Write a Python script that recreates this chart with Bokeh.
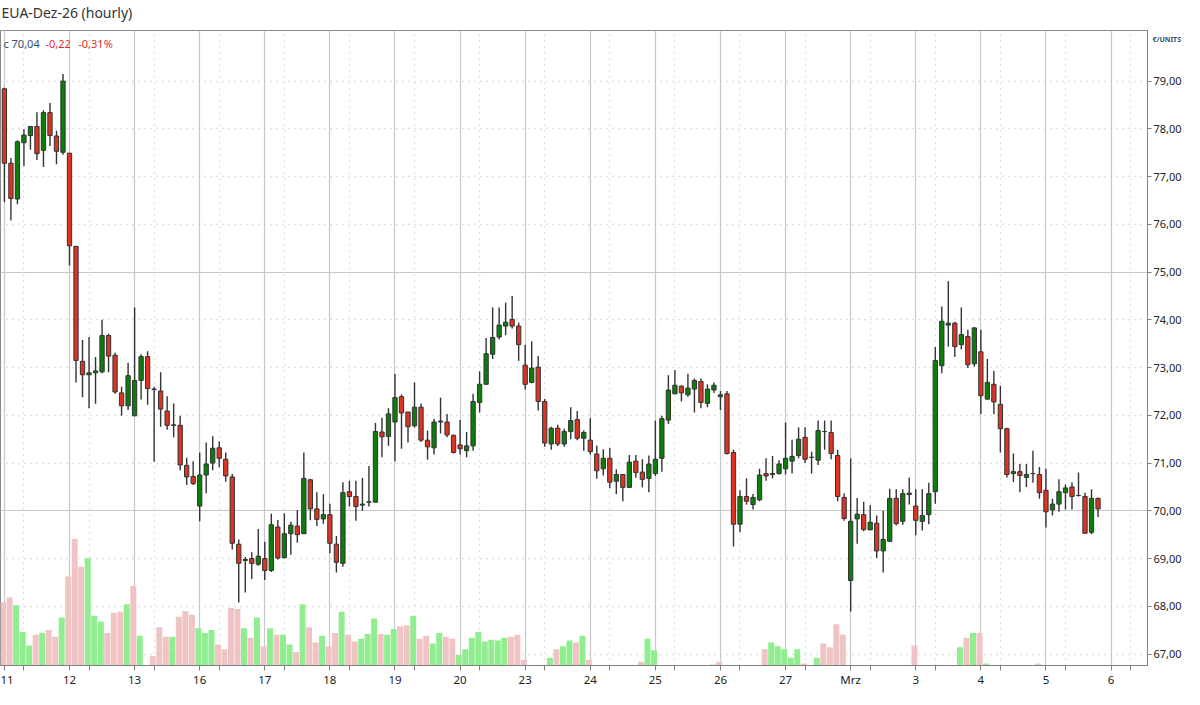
from bokeh.plotting import figure
from bokeh.models import (Range1d, FixedTicker, CustomJSTickFormatter, Grid, Label,
                          ColumnDataSource)
from bokeh.core.properties import value
from bokeh.embed import file_html
from bokeh.resources import INLINE
import json

# ---------------- data ----------------
day_labels = ["11", "12", "13", "16", "17", "18", "19", "20", "23", "24", "25", "26",
              "27", "Mrz", "3", "4", "5", "6"]
bars_per_day = 10

opens = [78.84, 77.28, 76.53, 77.71, 77.86, 78.05, 77.55, 78.34, 77.85, 77.51,
         77.49, 75.54, 73.13, 72.85, 72.89, 72.91, 73.67, 73.26, 72.47, 72.20,
         71.99, 72.73, 73.23, 72.55, 72.51, 72.09, 71.79, 71.79, 70.95, 70.72,
         70.10, 70.75, 71.00, 71.32, 71.08, 70.71, 69.30, 68.96, 69.00, 68.88,
         69.00, 68.75, 69.66, 69.02, 69.52, 69.68, 69.52, 70.65, 70.04, 69.83,
         69.92, 69.30, 68.90, 70.40, 70.30, 70.12, 70.18, 70.18, 71.65, 71.56,
         71.86, 72.39, 72.07, 71.78, 72.17, 71.48, 71.32, 71.86, 71.86, 71.58,
         71.38, 71.26, 71.36, 72.27, 72.65, 73.28, 73.64, 73.87, 74.01, 73.87,
         73.05, 72.69, 73.01, 72.29, 71.40, 71.73, 71.40, 71.66, 71.91, 71.52,
         71.48, 71.19, 70.88, 71.10, 70.62, 70.76, 70.49, 71.04, 70.81, 70.68,
         70.78, 71.10, 71.90, 72.45, 72.61, 72.43, 72.55, 72.71, 72.25, 72.53,
         72.39, 72.45, 71.22, 69.72, 70.30, 70.13, 70.23, 70.78, 70.76, 70.78,
         70.88, 71.04, 71.16, 71.54, 71.12, 71.06, 71.66, 71.64, 71.16, 70.28,
         68.54, 69.83, 69.92, 69.60, 69.74, 69.16, 69.36, 70.26, 69.78, 70.34,
         70.10, 69.78, 69.92, 70.40, 73.04, 73.89, 73.93, 73.48, 73.65, 73.08,
         73.33, 72.34, 72.65, 72.23, 71.72, 70.78, 70.82, 70.70, 70.78, 70.76,
         70.43, 70.02, 70.14, 70.38, 70.50, 70.32, 70.30, 69.55, 70.26]
highs = [78.86, 77.39, 77.76, 77.99, 78.06, 78.35, 78.39, 78.54, 77.96, 79.15,
         77.49, 75.54, 73.58, 73.64, 73.22, 74.00, 73.71, 73.31, 72.60, 73.10,
         74.26, 73.28, 73.34, 72.60, 72.90, 72.40, 72.25, 71.99, 71.11, 71.04,
         71.22, 71.43, 71.56, 71.45, 71.22, 70.77, 69.40, 69.03, 69.13, 69.62,
         69.35, 69.94, 69.81, 69.95, 69.77, 70.01, 71.22, 70.67, 70.39, 70.35,
         70.15, 69.47, 70.60, 70.63, 70.63, 70.69, 70.94, 71.84, 71.95, 72.15,
         72.87, 72.44, 72.07, 72.69, 72.25, 71.68, 71.93, 72.37, 72.03, 71.60,
         71.90, 71.65, 72.45, 72.92, 73.62, 74.26, 74.26, 74.36, 74.50, 73.94,
         73.48, 73.55, 73.24, 72.34, 71.76, 71.80, 71.72, 72.17, 72.09, 71.68,
         71.94, 71.37, 71.29, 71.32, 70.87, 70.76, 71.17, 71.17, 71.08, 71.16,
         71.89, 71.99, 72.84, 72.95, 72.63, 72.87, 72.77, 72.77, 72.65, 72.69,
         72.51, 72.51, 71.28, 70.43, 70.68, 70.35, 70.88, 71.10, 71.15, 71.06,
         71.85, 71.49, 71.75, 71.75, 71.24, 71.89, 71.89, 71.89, 71.28, 70.36,
         71.10, 70.27, 70.19, 70.12, 69.90, 70.00, 70.46, 70.45, 70.45, 70.70,
         70.45, 70.45, 70.59, 73.43, 74.28, 74.81, 73.96, 74.26, 73.79, 73.85,
         73.79, 73.18, 72.93, 72.62, 71.74, 71.20, 70.98, 70.98, 71.26, 70.92,
         70.88, 70.25, 70.66, 70.55, 70.60, 70.80, 70.38, 70.45, 70.28]
lows = [76.47, 76.08, 76.42, 77.22, 77.56, 77.35, 77.20, 77.64, 77.26, 77.46,
        75.14, 72.69, 72.38, 72.15, 72.24, 72.88, 72.90, 72.45, 71.99, 72.11,
        71.99, 72.33, 72.22, 71.03, 71.76, 71.70, 71.54, 70.85, 70.54, 70.54,
        69.78, 70.37, 70.85, 70.91, 70.61, 69.19, 68.08, 68.29, 68.57, 68.85,
        68.55, 68.72, 68.98, 69.00, 69.08, 69.33, 69.52, 69.80, 69.68, 69.73,
        69.11, 68.71, 68.83, 70.09, 69.79, 70.00, 70.09, 70.18, 71.12, 71.36,
        71.04, 71.30, 71.43, 71.74, 71.44, 71.07, 71.18, 71.62, 71.54, 71.20,
        71.18, 71.12, 71.26, 72.06, 72.65, 73.18, 73.59, 73.68, 73.82, 73.14,
        72.54, 72.67, 72.10, 71.34, 71.28, 71.36, 71.34, 71.50, 71.48, 71.26,
        71.18, 70.67, 70.74, 70.47, 70.35, 70.20, 70.49, 70.69, 70.49, 70.39,
        70.73, 70.82, 71.82, 72.45, 72.29, 72.39, 72.06, 72.15, 72.17, 72.47,
        72.11, 71.18, 69.25, 69.55, 70.13, 70.03, 70.20, 70.63, 70.68, 70.76,
        70.76, 70.78, 71.10, 71.00, 70.78, 70.96, 71.28, 71.08, 70.20, 69.79,
        67.89, 69.31, 69.57, 69.60, 69.01, 68.71, 69.36, 69.69, 69.71, 70.13,
        69.49, 69.59, 69.72, 70.15, 72.88, 73.44, 73.22, 73.38, 72.99, 73.02,
        72.03, 72.32, 72.02, 71.22, 70.70, 70.60, 70.39, 70.50, 70.59, 70.25,
        69.65, 69.90, 69.98, 70.03, 70.03, 70.30, 69.53, 69.51, 69.87]
closes = [77.28, 76.54, 77.73, 77.87, 78.05, 77.48, 78.34, 77.86, 77.53, 79.00,
          75.55, 73.15, 72.85, 72.89, 72.93, 73.67, 73.24, 72.49, 72.20, 72.83,
          72.73, 73.23, 72.56, 72.54, 72.13, 71.79, 71.80, 70.96, 70.71, 70.57,
          70.75, 70.98, 71.31, 71.10, 70.73, 69.32, 68.90, 68.98, 68.90, 69.05,
          68.75, 69.71, 69.01, 69.52, 69.70, 69.50, 70.68, 70.04, 69.82, 69.92,
          69.32, 68.92, 70.38, 70.30, 70.09, 70.14, 70.19, 71.66, 71.55, 72.03,
          72.37, 72.05, 71.76, 72.17, 71.48, 71.34, 71.86, 71.88, 71.59, 71.22,
          71.30, 71.36, 72.29, 72.65, 73.29, 73.63, 73.89, 73.95, 73.87, 73.48,
          72.65, 72.99, 72.29, 71.42, 71.73, 71.40, 71.66, 71.89, 71.52, 71.64,
          71.24, 70.84, 71.10, 70.60, 70.76, 70.49, 71.02, 70.80, 70.66, 70.98,
          71.08, 71.93, 72.53, 72.63, 72.47, 72.57, 72.73, 72.27, 72.55, 72.63,
          72.43, 71.20, 69.72, 70.30, 70.20, 70.28, 70.75, 70.73, 70.78, 70.98,
          71.10, 71.14, 71.50, 71.08, 71.12, 71.68, 71.66, 71.20, 70.30, 69.84,
          69.78, 69.93, 69.61, 69.76, 69.16, 69.40, 70.26, 69.73, 70.36, 70.37,
          69.80, 69.90, 70.36, 73.15, 73.97, 73.93, 73.44, 73.69, 73.06, 73.83,
          72.41, 72.69, 72.28, 71.72, 70.76, 70.82, 70.74, 70.76, 70.78, 70.38,
          69.98, 70.14, 70.40, 70.48, 70.30, 70.32, 69.53, 70.26, 70.04]
volumes = [198, 213, 189, 105, 63, 96, 102, 111, 90, 150,
           279, 396, 309, 336, 156, 138, 102, 165, 168, 192,
           249, 93, 0, 30, 120, 90, 90, 153, 171, 159,
           117, 102, 111, 66, 51, 180, 177, 117, 87, 150,
           60, 117, 96, 96, 66, 42, 192, 120, 72, 93,
           60, 102, 168, 96, 75, 84, 99, 147, 99, 96,
           114, 123, 126, 156, 84, 93, 69, 102, 90, 84,
           33, 51, 87, 105, 75, 81, 78, 87, 90, 96,
           18, 0, 0, 0, 24, 51, 60, 78, 72, 93,
           18, 0, 0, 0, 0, 0, 0, 0, 12, 84,
           48, 0, 0, 0, 0, 0, 0, 0, 0, 3,
           12, 0, 0, 0, 0, 0, 0, 51, 72, 60,
           51, 24, 51, 6, 0, 24, 69, 57, 129, 96,
           0, 0, 0, 0, 0, 0, 0, 0, 0, 0,
           63, 0, 0, 0, 0, 0, 0, 57, 87, 102,
           102, 6, 0, 0, 0, 0, 0, 0, 0, 6,
           0, 0, 0, 0, 0, 0, 0, 0, 0]
price_ticks = [67, 68, 69, 70, 71, 72, 73, 74, 75, 76, 77, 78, 79]
info_texts = ["c 70,04", "-0,22", "-0,31%"]
unit_text = "€/UNITS"

# ---------------- derived ----------------
n = len(closes)
idx = list(range(n))
up = [c >= o for o, c in zip(opens, closes)]
body_top = [max(o, c) for o, c in zip(opens, closes)]
body_bot = [min(o, c) for o, c in zip(opens, closes)]
body_col = ["#0a7d0a" if u else "#dc3323" for u in up]
vol_col = []
for i in range(n):
    prev = closes[i - 1] if i > 0 else opens[0]
    vol_col.append("#90ee90" if closes[i] > prev else "#f0c4c4")

src = ColumnDataSource(dict(x=idx, o=opens, h=highs, l=lows, c=closes,
                            bt=body_top, bb=body_bot, col=body_col,
                            vx=[i - 0.2 for i in idx], v=volumes, vcol=vol_col))

ndays = len(day_labels)
day_starts = [d * bars_per_day for d in range(ndays)]
dotted_x = [d * bars_per_day + 3 for d in range(ndays)]

FONT = "Noto Sans"
W, H = 1184, 689
RB = 36  # right border

p = figure(width=W, height=H, output_backend="svg", toolbar_location=None,
           x_range=Range1d(-0.6, 175.6), y_range=Range1d(66.76, 80.06),
           y_axis_location="right", min_border_left=0, min_border_right=RB,
           min_border_bottom=18, min_border_top=0)
p.extra_y_ranges = {"vol": Range1d(0, 1989)}

p.title.text = "EUA-Dez-26 (hourly)"
p.title.text_font = FONT
p.title.text_font_size = "14px"
p.title.text_font_style = "normal"
p.title.text_color = "#333333"
p.title.offset = 1
p.title.standoff = 0

p.background_fill_color = "white"
p.border_fill_color = "white"
p.outline_line_color = "#8a8a8a"
p.outline_line_width = 1

# grids
p.xgrid.ticker = FixedTicker(ticks=day_starts, minor_ticks=dotted_x)
p.xgrid.grid_line_color = "#c8c8c8"
p.xgrid.grid_line_width = 1.2
p.xgrid.minor_grid_line_color = "#c4c4c4"
p.xgrid.minor_grid_line_dash = "1 5"
p.xgrid.minor_grid_line_width = 1.3
p.ygrid.ticker = FixedTicker(ticks=[70, 75])
p.ygrid.grid_line_color = "#c8c8c8"
p.ygrid.grid_line_width = 1.2
dot_y = [t for t in price_ticks if t not in (70, 75)]
p.add_layout(Grid(dimension=1, ticker=FixedTicker(ticks=dot_y),
                  grid_line_color="#c4c4c4", grid_line_dash="1 5",
                  grid_line_width=1.3))

# x axis
xa = p.xaxis[0]
xa.ticker = FixedTicker(ticks=day_starts, minor_ticks=dotted_x)
xa.formatter = CustomJSTickFormatter(
    code="const L = %s; const k = Math.round(tick / %d); return (k >= 0 && k < L.length) ? L[k] : '';"
    % (json.dumps(day_labels), bars_per_day))
xa.major_label_text_align = "left"
xa.major_label_text_font = FONT
xa.major_label_text_font_size = "11.5px"
xa.major_label_text_color = "#222222"
xa.major_label_standoff = 1
xa.axis_line_color = "#808080"
xa.major_tick_line_color = "#808080"
xa.minor_tick_line_color = "#808080"
xa.major_tick_in = 0
xa.major_tick_out = 5
xa.minor_tick_in = 0
xa.minor_tick_out = 5

# y axis
ya = p.yaxis[0]
ya.ticker = FixedTicker(ticks=price_ticks)
ya.formatter = CustomJSTickFormatter(code="return tick.toFixed(2).replace('.', ',');")
ya.major_label_text_font = FONT
ya.major_label_text_font_size = "11px"
ya.major_label_text_color = "#222222"
ya.major_label_standoff = 2
ya.axis_line_color = "#808080"
ya.major_tick_line_color = "#808080"
ya.major_tick_in = 0
ya.major_tick_out = 4
ya.minor_tick_line_color = None

# volume
p.vbar(x="vx", width=0.92, top="v", bottom=0, source=src, y_range_name="vol",
       fill_color="vcol", line_color=None)

# candles
p.segment(x0="x", y0="l", x1="x", y1="h", source=src, line_color="#333333",
          line_width=1.4)
p.vbar(x="x", width=0.66, top="bt", bottom="bb", source=src, fill_color="col",
       line_color="#333333", line_width=1)

# info text (top-left inside frame)
p.text(x=[-0.15, 6.3, 11.35], y=[79.78, 79.78, 79.78], text=info_texts,
       text_color=["#34506e", "#e03030", "#e03030"], text_font=value(FONT),
       text_font_size="11px", text_baseline="alphabetic", text_align="left")

# unit label to the right of the frame (hosted by the top side panel)
frame_w = W - RB
p.add_layout(Label(x=frame_w + 4, y=39, x_units="canvas", y_units="canvas",
                   text=unit_text, text_font=FONT, text_font_size="7px",
                   text_font_style="bold", text_color="#34506e",
                   text_baseline="middle"), "above")

open("out.html", "w").write(file_html(p, INLINE))
